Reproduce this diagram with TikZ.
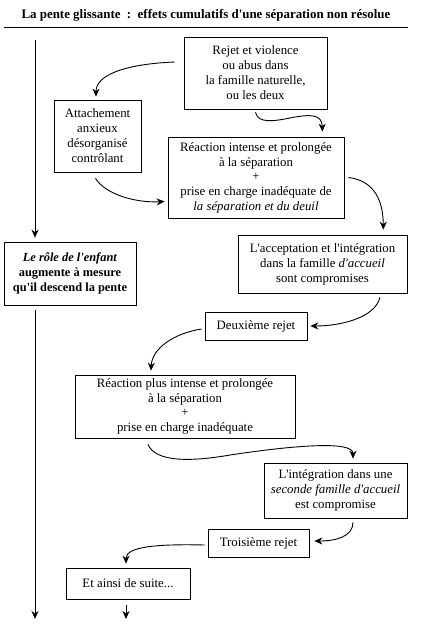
\documentclass[tikz,border=0pt]{standalone}
\usepackage{fontspec}
\setmainfont{Liberation Serif}
\usetikzlibrary{arrows.meta}
\newcommand{\ap}{\textquotesingle}
\begin{document}
\begin{tikzpicture}[x=1pt,y=-1pt,
  box/.style={draw,line width=0.7pt,align=center,inner sep=1pt,font=\fontsize{12.8}{15}\selectfont},
  arr/.style={line width=0.9pt,-{Stealth[length=8pt,width=7pt,inset=2.5pt]}},
  ln/.style={line width=0.9pt}]
\useasboundingbox (0,0) rectangle (446,632);
\node[font=\bfseries\fontsize{12.9}{15}\selectfont] (title) at (206,15) {La pente glissante~~:~~effets cumulatifs d\ap une séparation non résolue};
\coordinate (T0) at (4,27); \coordinate (T1) at (408,27);
\draw[ln] (T0) -- (T1);
\node[box,minimum width=143,minimum height=72] (b1) at (255.5,73) {Rejet et violence\\ou abus dans\\la famille naturelle,\\ou les deux};
\node[box,minimum width=87,minimum height=72] (b2) at (97.5,136) {Attachement\\anxieux\\désorganisé\\contrôlant};
\node[box,minimum width=176,minimum height=81] (b3) at (256,177.5) {Réaction intense et prolongée\\à la séparation\\[-1pt]+\\[0pt]prise en charge inadéquate de\\\textit{la séparation et du deuil}};
\node[box,minimum width=169,minimum height=58] (b4) at (322.5,264) {L\ap acceptation et l\ap intégration\\dans la famille \textit{d\ap accueil}\\sont compromises};
\node[box,minimum width=132,minimum height=63,font=\bfseries\fontsize{12.4}{15}\selectfont] (benf) at (70,273.5) {\textit{Le rôle de l\ap enfant}\\augmente à mesure\\qu\ap il descend la pente};
\node[box,minimum width=102,minimum height=28] (b5) at (256,326) {Deuxième rejet};
\node[box,minimum width=220,minimum height=63] (b6) at (185,406.5) {Réaction plus intense et prolongée\\à la séparation\\[-1pt]+\\[0pt]prise en charge inadéquate};
\node[box,minimum width=143,minimum height=55] (b7) at (335.5,490.5) {L\ap intégration dans une\\\textit{seconde famille d\ap accueil}\\est compromise};
\node[box,minimum width=101,minimum height=28] (b8) at (258.5,543) {Troisième rejet};
\node[box,minimum width=124,minimum height=31] (b9) at (128,583.5) {Et ainsi de suite...};
\coordinate (L0) at (35,40);
\coordinate (L1) at (35,619);
\coordinate (E1) at (126,619);
\draw[arr] (L0) -- ([shift={(-35,-4)}]benf.north);
\draw[arr] ([shift={(-35,5)}]benf.south) -- (L1);
\draw[arr] ([shift={(-9,-11)}]b1.west) .. controls (125,64) and (96,75) .. ([shift={(-1.5,-3)}]b2.north);
\draw[arr] ([shift={(0,3)}]b1.south) .. controls (258,124) and (275,121) .. (290,118) .. controls (310,114) and (322,114) .. ([shift={(-22,-5)}]b3.north east);
\draw[arr] ([shift={(-2,6)}]b2.south) .. controls (105,194) and (135,203) .. ([shift={(-3,24)}]b3.west);
\draw[arr] ([shift={(4,0)}]b3.east) .. controls (370,180) and (383,195) .. ([shift={(-24,-5)}]b4.north east);
\draw[arr] ([shift={(57.5,4)}]b4.south) .. controls (375,318) and (340,326) .. ([shift={(3,0)}]b5.east);
\draw[arr] ([shift={(-3,3)}]b5.west) .. controls (175,333) and (152,348) .. ([shift={(-34,-4)}]b6.north);
\draw[arr] ([shift={(-37,6)}]b6.south) .. controls (155,462) and (190,462) .. (230,455) .. controls (290,446) and (353,440) .. ([shift={(17.5,-4)}]b7.north);
\draw[arr] ([shift={(17.5,4)}]b7.south) .. controls (353,537) and (335,541) .. ([shift={(5,-2)}]b8.east);
\draw[arr] ([shift={(-3,2)}]b8.west) .. controls (160,544) and (126,546) .. ([shift={(-2,-4)}]b9.north);
\draw[arr] ([shift={(-2,6)}]b9.south) -- (E1);
\end{tikzpicture}
\end{document}
